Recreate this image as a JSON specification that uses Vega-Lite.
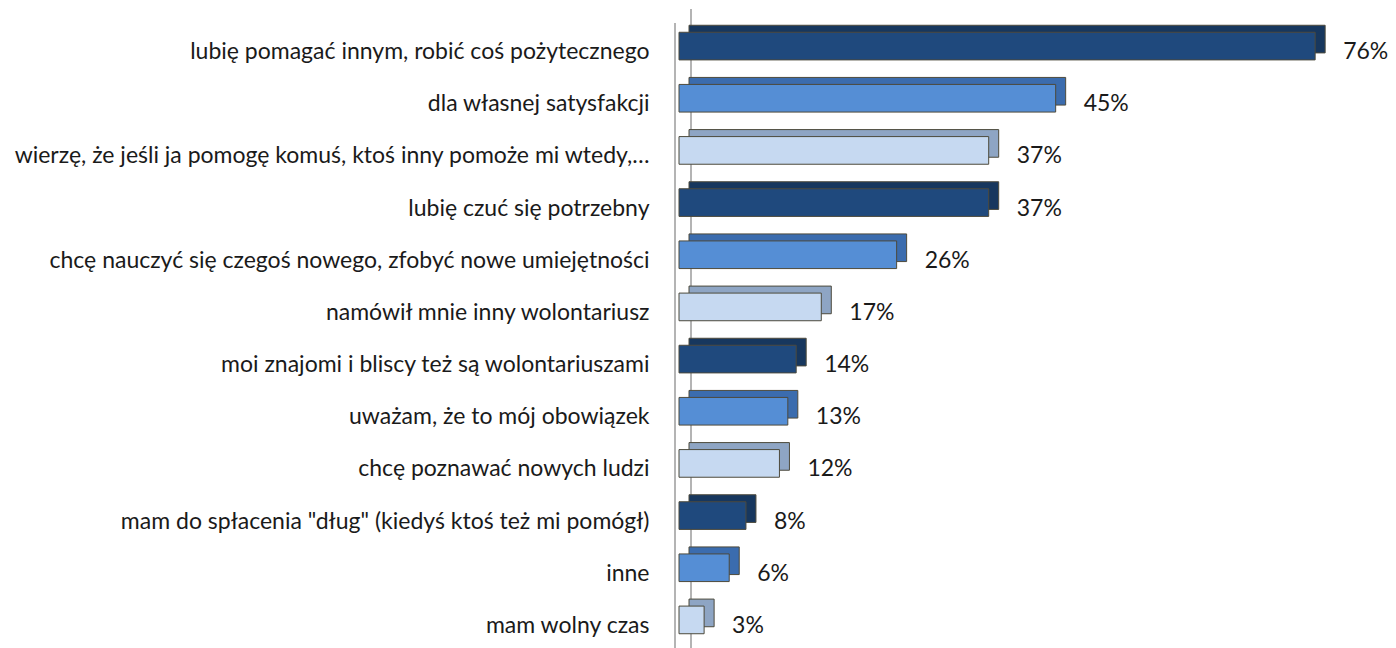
{
  "$schema": "https://vega.github.io/schema/vega-lite/v6.json",
  "autosize": "none",
  "padding": {"left": 679, "top": 26, "right": 0, "bottom": 0},
  "width": 717,
  "height": 626,
  "background": "white",
  "config": {"view": {"stroke": null}, "font": "Lato"},
  "data": {"values": [
    {"label": "lubię pomagać innym, robić coś pożytecznego", "value": 76, "group": "a"},
    {"label": "dla własnej satysfakcji", "value": 45, "group": "b"},
    {"label": "wierzę, że jeśli ja pomogę komuś, ktoś inny pomoże mi wtedy,…", "value": 37, "group": "c"},
    {"label": "lubię czuć się potrzebny", "value": 37, "group": "a"},
    {"label": "chcę nauczyć się czegoś nowego, zfobyć nowe umiejętności", "value": 26, "group": "b"},
    {"label": "namówił mnie inny wolontariusz", "value": 17, "group": "c"},
    {"label": "moi znajomi i bliscy też są wolontariuszami", "value": 14, "group": "a"},
    {"label": "uważam, że to mój obowiązek", "value": 13, "group": "b"},
    {"label": "chcę poznawać nowych ludzi", "value": 12, "group": "c"},
    {"label": "mam do spłacenia \"dług\" (kiedyś ktoś też mi pomógł)", "value": 8, "group": "a"},
    {"label": "inne", "value": 6, "group": "b"},
    {"label": "mam wolny czas", "value": 3, "group": "c"}
  ]},
  "resolve": {"scale": {"color": "independent"}},
  "layer": [
    {
      "mark": {"type": "rule", "color": "#b4b4b4", "strokeWidth": 1.5, "xOffset": -4, "yOffset": -3},
      "encoding": {"x": {"datum": 0, "type": "quantitative", "scale": {"domain": [0, 85.66], "nice": false, "zero": true}, "axis": null}}
    },
    {
      "mark": {"type": "rule", "color": "#b4b4b4", "strokeWidth": 1.5, "xOffset": 12, "yOffset": -17},
      "encoding": {"x": {"datum": 0, "type": "quantitative"}}
    },
    {
      "mark": {"type": "bar", "xOffset": 10, "yOffset": -13, "stroke": "#4d4a3c", "strokeWidth": 1},
      "encoding": {
        "y": {"field": "label", "type": "nominal", "sort": null,
          "scale": {"paddingInner": 0.47, "paddingOuter": 0.235},
          "axis": {"title": null, "domain": false, "ticks": false, "labelFontSize": 23, "labelFontWeight": "normal", "labelColor": "#1a1a1a", "labelPadding": 30, "labelLimit": 700, "labelFont": "Lato"}},
        "x": {"field": "value", "type": "quantitative"},
        "color": {"field": "group", "type": "nominal", "legend": null,
          "scale": {"domain": ["a", "b", "c"], "range": ["#17375e", "#3b6cae", "#8ea5c4"]}}
      }
    },
    {
      "mark": {"type": "bar", "yOffset": -6, "stroke": "#4d4a3c", "strokeWidth": 1},
      "encoding": {
        "y": {"field": "label", "type": "nominal", "sort": null},
        "x": {"field": "value", "type": "quantitative"},
        "color": {"field": "group", "type": "nominal", "legend": null,
          "scale": {"domain": ["a", "b", "c"], "range": ["#1f497d", "#558ed5", "#c6d9f1"]}}
      }
    },
    {
      "transform": [{"calculate": "datum.value + '%'", "as": "pct"}],
      "mark": {"type": "text", "align": "left", "dx": 28, "fontSize": 23, "fontWeight": "normal", "font": "Lato", "color": "#1a1a1a"},
      "encoding": {
        "y": {"field": "label", "type": "nominal", "sort": null},
        "x": {"field": "value", "type": "quantitative"},
        "text": {"field": "pct", "type": "nominal"}
      }
    }
  ]
}
